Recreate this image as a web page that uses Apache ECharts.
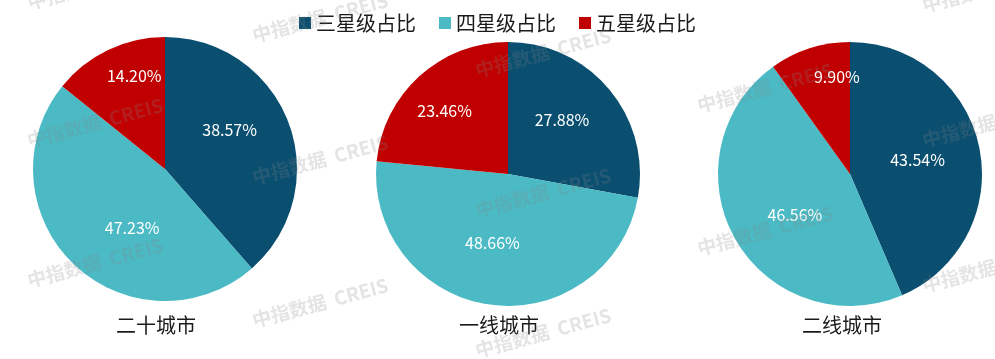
<!DOCTYPE html>
<html>
<head>
<meta charset="utf-8">
<script src="https://cdn.jsdelivr.net/npm/echarts@6/dist/echarts.min.js"></script>
<style>
  html, body { margin: 0; padding: 0; background: #fff; }
  #chart { width: 995px; height: 359px; }
</style>
</head>
<body>
<div id="chart"></div>
<script>
// chart data
const cities = ['二十城市', '一线城市', '二线城市'];
const levels = ['三星级占比', '四星级占比', '五星级占比'];
const threeStar = [38.57, 27.88, 43.54];
const fourStar = [47.23, 48.66, 46.56];
const fiveStar = [14.20, 23.46, 9.90];

const colors = ['#0b4f70', '#4bbac4', '#c00000'];
const FONT = '"Noto Sans CJK SC", "Noto Sans", sans-serif';

// layout of the three pies
const pieCenters = [[165, 169], [508, 174], [850, 174]];
const titleX = [151, 494, 837];
// nudges so labels sit where the original put them
const labelShift = [
  [[0, -15], [15, 9], [-1, -31]],
  [[1, -10], [-6, 1], [-17, -12]],
  [[0, 0], [5, 7], [8, -31]]
];

// watermark positions
const marks = [
  [30, 12], [30, 150], [30, 290],
  [255, 45], [255, 187], [255, 330],
  [478, 80], [478, 220], [478, 360],
  [700, 115], [700, 258],
  [925, 15], [925, 150], [925, 295]
];

const chart = echarts.init(document.getElementById('chart'), null, { renderer: 'canvas' });

const series = cities.map((c, i) => ({
  name: c,
  type: 'pie',
  radius: 132,
  center: pieCenters[i],
  startAngle: 90,
  clockwise: true,
  animation: false,
  silent: true,
  label: {
    show: true,
    position: 'inside',
    color: '#fff',
    fontSize: 16,
    fontFamily: FONT,
    formatter: p => p.value.toFixed(2) + '%'
  },
  labelLine: { show: false },
  labelLayout: params => {
    const s = labelShift[i][params.dataIndex];
    return { dx: s[0], dy: s[1] };
  },
  emphasis: { disabled: true },
  data: [
    { name: levels[0], value: threeStar[i], itemStyle: { color: colors[0] } },
    { name: levels[1], value: fourStar[i], itemStyle: { color: colors[1] } },
    { name: levels[2], value: fiveStar[i], itemStyle: { color: colors[2] } }
  ]
}));

const option = {
  backgroundColor: '#fff',
  animation: false,
  color: colors,
  legend: {
    data: levels,
    top: 8,
    left: 'center',
    icon: 'rect',
    itemWidth: 12,
    itemHeight: 12,
    itemGap: 23,
    textStyle: { fontSize: 20, color: '#1a1a1a', fontFamily: FONT }
  },
  title: cities.map((c, i) => ({
    text: c,
    left: titleX[i],
    top: 310,
    textAlign: 'center',
    textStyle: { fontSize: 20, fontWeight: 'normal', color: '#1a1a1a', fontFamily: FONT }
  })),
  graphic: marks.map(m => ({
    type: 'text',
    x: m[0],
    y: m[1],
    rotation: 15 * Math.PI / 180,
    z: 100,
    silent: true,
    style: {
      text: '中指数据  CREIS',
      fill: 'rgba(130,130,130,0.22)',
      font: 'bold 19px ' + FONT,
      textVerticalAlign: 'bottom'
    }
  })),
  series: series
};

chart.setOption(option);
</script>
</body>
</html>
